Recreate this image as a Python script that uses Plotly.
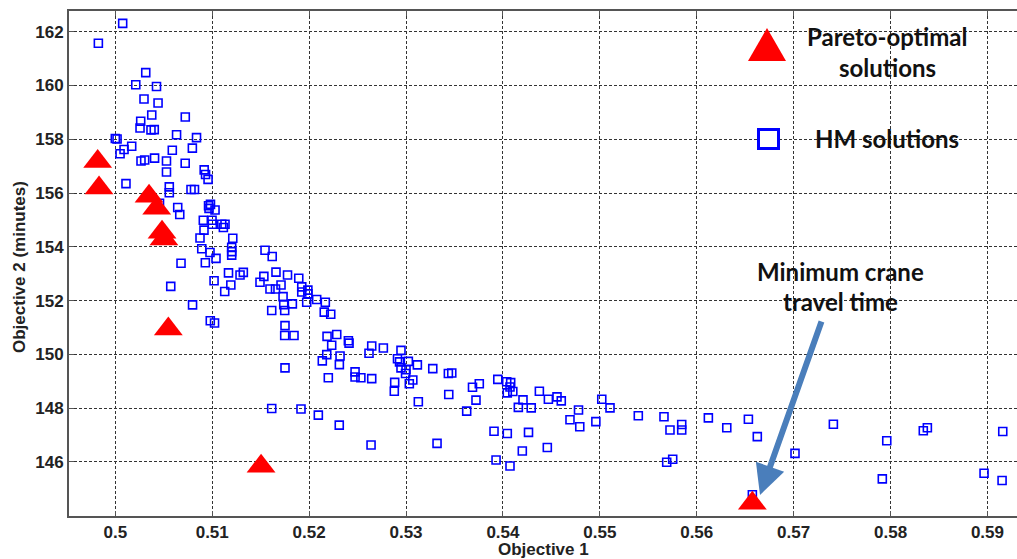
import plotly.graph_objects as go

# ---------------- data ----------------
hm_x = [0.50076, 0.49825, 0.50314, 0.50211, 0.50425, 0.50296, 0.50441, 0.50376, 0.50722, 0.50262,
        0.50255, 0.50368, 0.50402, 0.50632, 0.50838, 0.50000, 0.50018, 0.50169, 0.50090, 0.50049,
        0.50588, 0.50795, 0.50265, 0.50303, 0.50405, 0.50528, 0.50721, 0.50528, 0.50110, 0.50917,
        0.50931, 0.50957, 0.50557, 0.50557, 0.50781, 0.50817, 0.50456, 0.50644, 0.50665, 0.50962,
        0.50982, 0.50967, 0.51029, 0.50908, 0.50998, 0.51001, 0.51098, 0.51132, 0.51115, 0.50915,
        0.50874, 0.51212, 0.51201, 0.51201, 0.51201, 0.50892, 0.50977, 0.51039, 0.50929, 0.50678,
        0.51545, 0.51619, 0.51168, 0.51287, 0.51321, 0.51019, 0.51192, 0.51129, 0.50572, 0.50797,
        0.50980, 0.51024, 0.51533, 0.51493, 0.51658, 0.51596, 0.51653, 0.51710, 0.51777, 0.51893,
        0.51924, 0.51924, 0.51987, 0.51987, 0.51731, 0.51738, 0.51748, 0.51827, 0.51975, 0.52078,
        0.52167, 0.52156, 0.52223, 0.51614, 0.51751, 0.51748, 0.51844, 0.51751, 0.51614, 0.51916,
        0.52095, 0.52311, 0.52185, 0.52285, 0.52233, 0.52182, 0.52136, 0.52198, 0.52319, 0.52405,
        0.52412, 0.52312, 0.52474, 0.52474, 0.52534, 0.52646, 0.52646, 0.52618, 0.52766, 0.52948,
        0.52912, 0.52933, 0.52948, 0.53024, 0.53000, 0.52995, 0.53117, 0.53070, 0.53034, 0.52883,
        0.52879, 0.53127, 0.53276, 0.53437, 0.53472, 0.53441, 0.53686, 0.53756, 0.53722, 0.53626,
        0.52639, 0.53320, 0.53947, 0.54039, 0.54080, 0.54073, 0.54045, 0.54102, 0.54207, 0.54159,
        0.54292, 0.54376, 0.54469, 0.54558, 0.54602, 0.54780, 0.54692, 0.54793, 0.54959, 0.55020,
        0.55105, 0.55397, 0.55662, 0.55724, 0.55845, 0.55845, 0.53908, 0.54045, 0.54264, 0.54200,
        0.54458, 0.53929, 0.54073, 0.55690, 0.55752, 0.56120, 0.56310, 0.56533, 0.56625, 0.57014,
        0.57410, 0.57961, 0.57915, 0.58338, 0.58380, 0.58965, 0.59151, 0.59158, 0.56574]
hm_y = [162.31, 161.57, 160.48, 160.03, 159.96, 159.50, 159.35, 158.90, 158.83, 158.67,
        158.42, 158.35, 158.36, 158.17, 158.06, 158.03, 158.01, 157.74, 157.62, 157.46,
        157.59, 157.67, 157.19, 157.23, 157.30, 157.19, 157.11, 156.78, 156.35, 156.86,
        156.69, 156.51, 156.23, 156.01, 156.13, 156.13, 155.62, 155.46, 155.20, 155.53,
        155.58, 155.43, 155.37, 154.99, 154.99, 154.84, 154.84, 154.84, 154.72, 154.62,
        154.33, 154.32, 153.98, 153.82, 153.69, 153.93, 153.79, 153.57, 153.41, 153.39,
        153.87, 153.64, 153.03, 152.95, 153.05, 152.74, 152.58, 152.34, 152.53, 151.84,
        151.25, 151.17, 152.90, 152.68, 153.06, 152.43, 152.43, 152.58, 152.95, 152.83,
        152.51, 152.32, 152.39, 152.25, 152.15, 151.85, 151.63, 151.88, 151.94, 152.04,
        151.94, 151.57, 151.49, 151.63, 151.07, 150.70, 150.70, 149.50, 147.99, 147.97,
        147.74, 147.37, 150.67, 150.74, 150.34, 149.99, 149.76, 149.13, 149.94, 150.51,
        150.42, 149.62, 149.35, 149.16, 149.13, 149.10, 150.31, 150.04, 150.24, 150.15,
        149.84, 149.72, 149.50, 149.74, 149.43, 149.29, 149.61, 149.05, 148.91, 148.96,
        148.63, 148.24, 149.47, 149.29, 149.31, 148.51, 148.78, 148.91, 148.30, 147.89,
        146.63, 146.69, 149.07, 148.98, 148.95, 148.79, 148.57, 148.62, 148.31, 148.03,
        148.01, 148.63, 148.33, 148.42, 148.27, 147.93, 147.57, 147.31, 147.50, 148.33,
        148.01, 147.72, 147.68, 147.19, 147.39, 147.19, 147.14, 147.06, 147.10, 146.41,
        146.54, 146.07, 145.85, 145.99, 146.10, 147.64, 147.27, 147.59, 146.94, 146.32,
        147.40, 146.79, 145.37, 147.16, 147.27, 145.58, 145.31, 147.13, 144.78]

pareto_x = [0.49818, 0.49832, 0.50348, 0.50427, 0.50482, 0.50502, 0.50547, 0.51504, 0.56574]
pareto_y = [157.17, 156.19, 155.88, 155.43, 154.54, 154.29, 150.94, 145.84, 144.46]

x_ticks = [0.50, 0.51, 0.52, 0.53, 0.54, 0.55, 0.56, 0.57, 0.58, 0.59]
x_tick_labels = ["0.5", "0.51", "0.52", "0.53", "0.54", "0.55", "0.56", "0.57", "0.58", "0.59"]
y_ticks = [146, 148, 150, 152, 154, 156, 158, 160, 162]
y_tick_labels = ["146", "148", "150", "152", "154", "156", "158", "160", "162"]

legend_pareto = ["Pareto-optimal", "solutions"]
legend_hm = "HM solutions"
note_lines = ["Minimum crane", "travel time"]
arrow_target = (0.56653, 144.77)

# ---------------- layout geometry ----------------
W, H = 1017, 559
L, R, T, B = 69, 0, 11, 43
PW, PH = W - L - R, H - T - B


def px(x):
    return (x - L) / PW


def py(y):
    return (H - B - y) / PH


fig = go.Figure()
fig.add_trace(go.Scatter(
    x=hm_x, y=hm_y, mode="markers", name="HM solutions",
    marker=dict(symbol="square-open", size=8, color="#0000ff",
                line=dict(width=1.6, color="#0000ff")),
    showlegend=False))
fig.add_trace(go.Scatter(
    x=pareto_x, y=pareto_y, mode="markers", name="Pareto-optimal solutions",
    marker=dict(symbol="triangle-up", size=25, color="#ff0000", line=dict(width=0)),
    showlegend=False))

shapes = []
# white text boxes over the grid
for (x0, y0, x1, y1) in [(746, 13, 785, 80), (785, 13, 988, 88), (755, 115, 988, 158),
                         (737, 251, 942, 323)]:
    shapes.append(dict(type="rect", xref="paper", yref="paper", layer="between",
                       x0=px(x0), x1=px(x1), y0=py(y1), y1=py(y0),
                       fillcolor="white", line=dict(width=0)))
# legend triangle
shapes.append(dict(type="path", xref="paper", yref="paper", layer="above",
                   path=f"M {px(748)} {py(61)} L {px(786)} {py(61)} L {px(767)} {py(28)} Z",
                   fillcolor="#ff0000", line=dict(width=0)))
# legend square
shapes.append(dict(type="rect", xref="paper", yref="paper", layer="above",
                   x0=px(758.5), x1=px(778.5), y0=py(148.5), y1=py(129.5),
                   fillcolor="white", line=dict(color="#0000ff", width=3)))

lab_font = dict(family="Lato", size=24, color="#111111", weight="bold")
annotations = [
    dict(xref="paper", yref="paper", x=px(887), y=py(36), text=legend_pareto[0],
         showarrow=False, font=lab_font, xanchor="center", yanchor="middle"),
    dict(xref="paper", yref="paper", x=px(887), y=py(67), text=legend_pareto[1],
         showarrow=False, font=lab_font, xanchor="center", yanchor="middle"),
    dict(xref="paper", yref="paper", x=px(887), y=py(138), text=legend_hm,
         showarrow=False, font=lab_font, xanchor="center", yanchor="middle"),
    dict(xref="paper", yref="paper", x=px(840), y=py(271), text=note_lines[0],
         showarrow=False, font=lab_font, xanchor="center", yanchor="middle"),
    dict(xref="paper", yref="paper", x=px(840), y=py(301), text=note_lines[1],
         showarrow=False, font=lab_font, xanchor="center", yanchor="middle"),
    dict(x=arrow_target[0], y=arrow_target[1], xref="x", yref="y", text="",
         showarrow=True, ax=62, ay=-175, arrowhead=2, arrowsize=1, arrowwidth=6,
         arrowcolor="#4a7ebb", standoff=0),
    # axis titles
    dict(xref="paper", yref="paper", x=px(543), y=py(549), text="Objective 1",
         showarrow=False, xanchor="center", yanchor="middle",
         font=dict(family="Liberation Sans", size=17, color="#222222", weight="bold")),
    dict(xref="paper", yref="paper", x=px(19), y=py(267), text="Objective 2 (minutes)",
         showarrow=False, xanchor="center", yanchor="middle", textangle=-90,
         font=dict(family="Liberation Sans", size=17, color="#222222", weight="bold")),
]

tick_font = dict(family="Liberation Sans", size=17, color="#222222", weight="bold")

fig.update_layout(
    width=W, height=H,
    margin=dict(l=L, r=R, t=T, b=B, pad=0),
    paper_bgcolor="white", plot_bgcolor="white",
    shapes=shapes, annotations=annotations,
    xaxis=dict(range=[0.49522, 0.59305], tickvals=x_ticks, ticktext=x_tick_labels,
               showgrid=True, gridcolor="#333333", griddash="3px,2px", gridwidth=1,
               zeroline=False, showline=True, linecolor="#555555", linewidth=2,
               mirror="ticks", ticks="inside", ticklen=5, tickcolor="#555555",
               tickfont=tick_font),
    yaxis=dict(range=[143.99, 162.77], tickvals=y_ticks, ticktext=y_tick_labels,
               showgrid=True, gridcolor="#333333", griddash="3px,2px", gridwidth=1,
               zeroline=False, showline=True, linecolor="#555555", linewidth=2,
               mirror=False, ticks="inside", ticklen=5, tickcolor="#555555",
               tickfont=tick_font),
)

fig.write_html("out.html")
